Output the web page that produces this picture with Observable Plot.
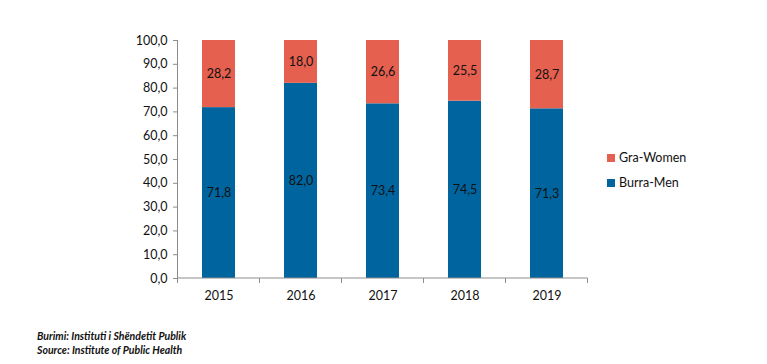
<!DOCTYPE html>
<html>
<head>
<meta charset="utf-8">
<script src="https://cdn.jsdelivr.net/npm/d3@7"></script>
<script src="https://cdn.jsdelivr.net/npm/@observablehq/plot@0.6"></script>
<style>
  body { margin: 0; background: #fff; font-family: Lato, "Open Sans", sans-serif; }
  #wrap { position: relative; width: 767px; height: 364px; }
  #legend { position: absolute; left: 607px; top: 145px; font-size: 12.5px; color: #111; }
  #legend div { display: flex; align-items: center; height: 25px; }
  #legend span.sw { display: inline-block; width: 8px; height: 8px; margin-right: 4px; }
  #caption { position: absolute; left: 37px; top: 329px; font-size: 10.5px; font-weight: bold; font-style: italic; color: #111; line-height: 14px; }
</style>
</head>
<body>
<div id="wrap">
  <div id="chart"></div>
  <div id="legend"></div>
  <div id="caption">Burimi: Instituti i Shëndetit Publik<br>Source: Institute of Public Health</div>
</div>
<script>
const years = ["2015", "2016", "2017", "2018", "2019"];
const men = [71.8, 82.0, 73.4, 74.5, 71.3];
const women = [28.2, 18.0, 26.6, 25.5, 28.7];
const series = ["Burra-Men", "Gra-Women"];
const colors = ["#00659F", "#E5604F"];
const yTicks = [0, 10, 20, 30, 40, 50, 60, 70, 80, 90, 100];

const rows = [];
years.forEach((y, i) => {
  rows.push({year: y, sex: series[0], value: men[i]});
  rows.push({year: y, sex: series[1], value: women[i]});
});
const fmt = v => d3.format(".1f")(v).replace(".", ",");

// y-axis line and x-axis boundary ticks, placed with the chart's own scales
function axisLines(index, scales, values, dimensions) {
  const x = scales.x, y = scales.y;
  const bw = x.bandwidth ? x.bandwidth() : 0;
  const step = x.step ? x.step() : bw;
  const y0 = y(0), yTop = y(100);
  const g = d3.create("svg:g").attr("stroke", "#8c8c8c").attr("stroke-width", 1);
  const xs = years.map(d => x(d) - (step - bw) / 2);
  xs.push(x(years[years.length - 1]) + bw + (step - bw) / 2);
  xs.forEach(px => g.append("line").attr("x1", px).attr("x2", px).attr("y1", y0).attr("y2", y0 + 5));
  g.append("line").attr("x1", xs[0]).attr("x2", xs[0]).attr("y1", yTop).attr("y2", y0);
  g.append("line").attr("x1", xs[0]).attr("x2", xs[xs.length - 1]).attr("y1", y0).attr("y2", y0);
  return g.node();
}

const chart = Plot.plot({
  width: 767,
  height: 320,
  marginTop: 40,
  marginBottom: 42,
  marginLeft: 177,
  marginRight: 180,
  style: {fontFamily: "Lato, 'Open Sans', sans-serif", fontSize: "12.5px", color: "#111"},
  x: {domain: years, paddingInner: 0.6, paddingOuter: 0.3, label: null},
  y: {domain: [0, 100], label: null},
  color: {domain: series, range: colors},
  marks: [
    Plot.barY(rows, Plot.stackY({x: "year", y: "value", fill: "sex", order: series})),
    Plot.text(rows, Plot.stackY({x: "year", y: "value", z: "sex", order: series, text: d => fmt(d.value), fill: "#111", fontSize: 12.5})),
    Plot.axisY({ticks: yTicks, tickFormat: fmt, tickSize: 4, tickPadding: 6, stroke: "#8c8c8c", fontSize: 12.5}),
    Plot.axisX({tickSize: 0, tickPadding: 13, fontSize: 12.5}),
    axisLines
  ]
});
document.getElementById("chart").appendChild(chart);

const legend = document.getElementById("legend");
[1, 0].forEach(i => {
  const d = document.createElement("div");
  d.innerHTML = `<span class="sw" style="background:${colors[i]}"></span>${series[i]}`;
  legend.appendChild(d);
});
</script>
</body>
</html>
